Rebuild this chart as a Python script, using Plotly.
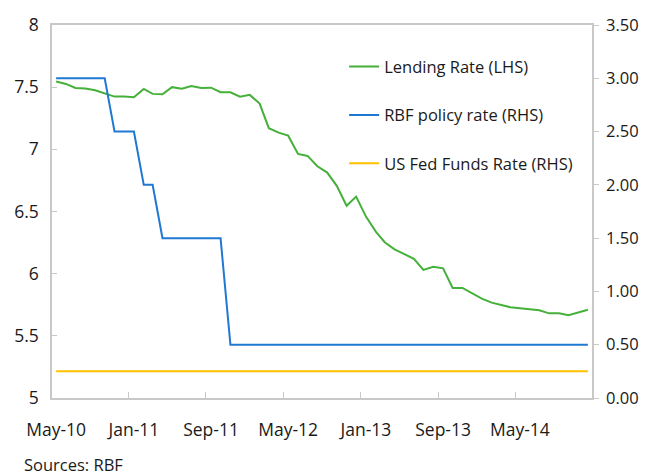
import pandas as pd
import plotly.graph_objects as go

# Monthly observations, May-2010 .. Dec-2014
months = pd.date_range("2010-05-01", "2014-12-01", freq="MS")

lending_rate = [
    7.545, 7.526, 7.494, 7.490, 7.475, 7.448, 7.424, 7.424, 7.419, 7.486,
    7.446, 7.443, 7.500, 7.488, 7.510, 7.494, 7.496, 7.459, 7.459, 7.424,
    7.438, 7.368, 7.170, 7.134, 7.110, 6.963, 6.947, 6.864, 6.813, 6.706,
    6.546, 6.620, 6.459, 6.338, 6.253, 6.196, 6.156, 6.120, 6.030, 6.056,
    6.043, 5.885, 5.885, 5.842, 5.799, 5.767, 5.748, 5.730, 5.722, 5.714,
    5.706, 5.681, 5.681, 5.665, 5.686, 5.710,
]

rbf_policy_rate = [
    3.0, 3.0, 3.0, 3.0, 3.0, 3.0, 2.5, 2.5, 2.5, 2.0,
    2.0, 1.5, 1.5, 1.5, 1.5, 1.5, 1.5, 1.5, 0.5, 0.5,
    0.5, 0.5, 0.5, 0.5, 0.5, 0.5, 0.5, 0.5, 0.5, 0.5,
    0.5, 0.5, 0.5, 0.5, 0.5, 0.5, 0.5, 0.5, 0.5, 0.5,
    0.5, 0.5, 0.5, 0.5, 0.5, 0.5, 0.5, 0.5, 0.5, 0.5,
    0.5, 0.5, 0.5, 0.5, 0.5, 0.5,
]

us_fed_funds_rate = [
    0.25, 0.25, 0.25, 0.25, 0.25, 0.25, 0.25, 0.25, 0.25, 0.25,
    0.25, 0.25, 0.25, 0.25, 0.25, 0.25, 0.25, 0.25, 0.25, 0.25,
    0.25, 0.25, 0.25, 0.25, 0.25, 0.25, 0.25, 0.25, 0.25, 0.25,
    0.25, 0.25, 0.25, 0.25, 0.25, 0.25, 0.25, 0.25, 0.25, 0.25,
    0.25, 0.25, 0.25, 0.25, 0.25, 0.25, 0.25, 0.25, 0.25, 0.25,
    0.25, 0.25, 0.25, 0.25, 0.25, 0.25,
]

x_tick_dates = ["2010-05-01", "2011-01-01", "2011-09-01", "2012-05-01",
                "2013-01-01", "2013-09-01", "2014-05-01"]
x_tick_labels = ["May-10", "Jan-11", "Sep-11", "May-12", "Jan-13", "Sep-13", "May-14"]
x_minor_ticks = ["2010-12-16", "2011-08-16", "2012-04-16", "2012-12-16",
                 "2013-08-16", "2014-04-16", "2014-12-16"]

left_ticks = [5, 5.5, 6, 6.5, 7, 7.5, 8]
left_tick_labels = ["5", "5.5", "6", "6.5", "7", "7.5", "8"]
right_ticks = [0, 0.5, 1.0, 1.5, 2.0, 2.5, 3.0, 3.5]
right_tick_labels = ["0.00", "0.50", "1.00", "1.50", "2.00", "2.50", "3.00", "3.50"]

FONT = "Open Sans"
AXIS_COLOR = "#c8c8c8"
TEXT_COLOR = "#1a1a1a"

# The page body adds an 8px offset, so the figure is 640x467.
fig = go.Figure()
fig.add_trace(go.Scatter(x=months, y=lending_rate, name="Lending Rate (LHS)",
                         mode="lines", line=dict(color="#45b03a", width=2),
                         legendgroup="a"))
fig.add_trace(go.Scatter(x=months, y=rbf_policy_rate, name="RBF policy rate (RHS)",
                         mode="lines", line=dict(color="#1f78d1", width=2),
                         yaxis="y2", legendgroup="b"))
fig.add_trace(go.Scatter(x=months, y=us_fed_funds_rate, name="US Fed Funds Rate (RHS)",
                         mode="lines", line=dict(color="#ffc000", width=2),
                         yaxis="y2", legendgroup="c"))

fig.update_layout(
    width=640, height=467,
    margin=dict(l=44, r=56, t=17, b=77, autoexpand=False),
    paper_bgcolor="white", plot_bgcolor="white",
    font=dict(family=FONT, size=17, color=TEXT_COLOR),
    showlegend=True,
    legend=dict(x=0.541, y=0.935, xanchor="left", yanchor="top",
                bgcolor="rgba(0,0,0,0)", tracegroupgap=24,
                font=dict(family=FONT, size=16.5, color=TEXT_COLOR)),
    xaxis=dict(
        type="date", automargin=False,
        range=["2010-04-18", "2014-12-14"],
        tickmode="array", tickvals=x_tick_dates, ticktext=x_tick_labels,
        ticks="", showgrid=False, zeroline=False,
        showline=True, linecolor=AXIS_COLOR, linewidth=1.5, mirror=True,
        ticklabelstandoff=15,
        tickfont=dict(size=17.5),
        minor=dict(tickmode="array", tickvals=x_minor_ticks, ticks="inside",
                   ticklen=6, tickcolor=AXIS_COLOR, tickwidth=1, showgrid=False),
    ),
    yaxis=dict(
        range=[5, 8], automargin=False,
        tickmode="array", tickvals=left_ticks, ticktext=left_tick_labels,
        ticks="inside", ticklen=5, tickcolor=AXIS_COLOR,
        showgrid=False, zeroline=False,
        showline=True, linecolor=AXIS_COLOR, linewidth=1.5,
        ticklabelstandoff=8,
        tickfont=dict(size=17.5),
    ),
    yaxis2=dict(
        range=[0, 3.5], overlaying="y", side="right", automargin=False,
        tickmode="array", tickvals=right_ticks, ticktext=right_tick_labels,
        ticks="outside", ticklen=5, tickcolor=AXIS_COLOR,
        showgrid=False, zeroline=False,
        showline=True, linecolor=AXIS_COLOR, linewidth=1.5,
        ticklabelstandoff=4,
        tickfont=dict(size=16.5),
    ),
)

fig.add_annotation(text="Sources: RBF", xref="paper", yref="paper",
                   x=-30 / 540, y=-53 / 373, xanchor="left", yanchor="top",
                   showarrow=False, font=dict(family=FONT, size=16.5, color=TEXT_COLOR))

fig.write_html("out.html")
